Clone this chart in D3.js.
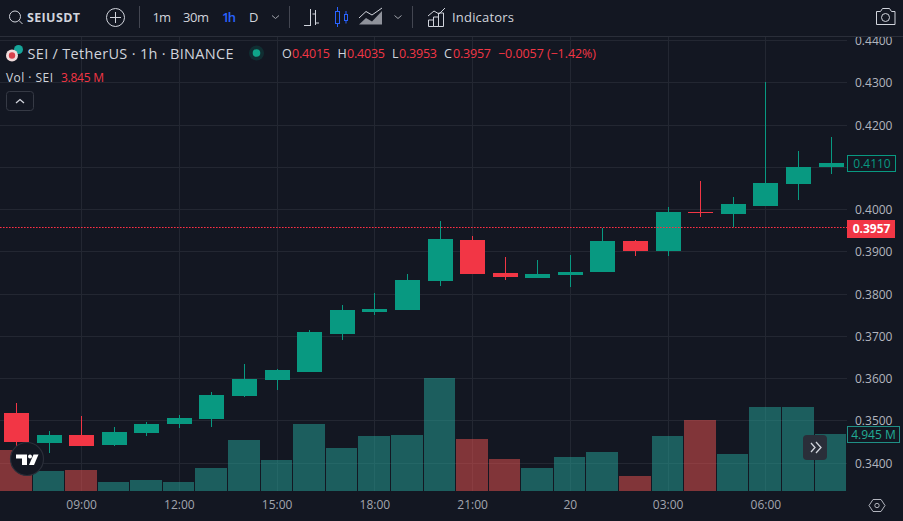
<!DOCTYPE html>
<html>
<head>
<meta charset="utf-8">
<style>
html,body{margin:0;padding:0;background:#131722;overflow:hidden}
svg{display:block}
text{font-family:"Open Sans","Liberation Sans",sans-serif}
</style>
<script src="https://cdn.jsdelivr.net/npm/d3@7/dist/d3.min.js"></script>
</head>
<body>
<svg id="chart" width="903" height="521"></svg>
<script>
// Hourly SEI/USDT session, 07:00 through 08:00 the next day
const opens  = [0.3519,0.3448,0.3467,0.3443,0.3472,0.3493,0.3505,0.3559,0.3597,0.3616,0.3706,0.3758,0.3762,0.3831,0.3928,0.3850,0.3838,0.3845,0.3852,0.3926,0.3902,0.3994,0.3989,0.4008,0.4060,0.4100];
const highs  = [0.3543,0.3476,0.3512,0.3486,0.3498,0.3514,0.3569,0.3635,0.3623,0.3715,0.3774,0.3803,0.3848,0.3973,0.3937,0.3888,0.3881,0.3892,0.3956,0.3928,0.4006,0.4067,0.4030,0.4301,0.4138,0.4171];
const lows   = [0.3441,0.3423,0.3441,0.3441,0.3465,0.3483,0.3486,0.3557,0.3573,0.3616,0.3691,0.3751,0.3762,0.3819,0.3848,0.3833,0.3838,0.3817,0.3852,0.3890,0.3890,0.3982,0.3959,0.4008,0.4022,0.4084];
const closes = [0.3450,0.3467,0.3441,0.3474,0.3493,0.3507,0.3561,0.3599,0.3621,0.3710,0.3762,0.3765,0.3833,0.3930,0.3848,0.3840,0.3848,0.3852,0.3926,0.3902,0.3994,0.3992,0.4013,0.4063,0.4100,0.4110];
const volumes = [3.556,1.735,1.821,0.781,0.954,0.781,1.995,4.423,2.689,5.811,3.729,4.770,4.857,9.800,4.510,2.775,1.995,2.949,3.382,1.301,4.770,6.158,3.209,7.285,7.285,4.945];

const gridPrices = [0.34,0.35,0.36,0.37,0.38,0.39,0.40,0.41,0.42,0.43,0.44];
// 0.4100 sits under the close tag, so it gets a grid line but no label
const priceLabels = [0.34,0.35,0.36,0.37,0.38,0.39,0.40,0.42,0.43,0.44];
const timeTickIndex = [2,5,8,11,14,17,20,23];
const timeTickLabels = ["09:00","12:00","15:00","18:00","21:00","20","03:00","06:00"];
const lastPrice = 0.3957;
const seriesClose = 0.4110;
const seriesVolume = 4.945;
const intervals = ["1m","30m","1h","D"];
const intervalWidths = [18.5,26,14,8];

const UP = "#089981", DOWN = "#F23645";
const UP_VOL = "rgba(38,166,154,.5)", DOWN_VOL = "rgba(239,83,80,.5)";
const GRID = "#232732", AXIS_TEXT = "#b2b5be", TEXT = "#d1d4dc";
const plotRight = 847, plotTop = 37, plotBottom = 491;

const svg = d3.select("#chart");
const snap = v => Math.floor(v) + 0.5;

const x = d3.scaleLinear().domain([0, opens.length - 1]).range([16.5, 831]);
const y = d3.scaleLinear().domain([0.34, 0.44]).range([463, 40.5]);
const yVol = d3.scaleLinear().domain([0, seriesVolume]).range([plotBottom, 434]);
const candleW = 25;
const volLeft = i => Math.max(0, Math.round(x(i) - 16.5));
const volRight = i => i === opens.length - 1 ? plotRight - 1 : Math.round(x(i + 1) - 16.5) - 1;

// Grid
const grid = svg.append("g").attr("shape-rendering","crispEdges").attr("stroke",GRID).attr("stroke-width",1);
grid.selectAll("line.h").data(gridPrices).join("line").attr("class","h")
  .attr("x1",0).attr("x2",plotRight).attr("y1",d=>snap(y(d))).attr("y2",d=>snap(y(d)));
grid.selectAll("line.v").data(timeTickIndex).join("line").attr("class","v")
  .attr("y1",plotTop).attr("y2",plotBottom).attr("x1",d=>snap(x(d))).attr("x2",d=>snap(x(d)));

// Volume pane
svg.append("g").attr("shape-rendering","crispEdges").selectAll("rect").data(volumes).join("rect")
  .attr("x",(d,i)=>volLeft(i))
  .attr("width",(d,i)=>volRight(i)-volLeft(i))
  .attr("y",d=>Math.round(yVol(d)))
  .attr("height",d=>plotBottom-Math.round(yVol(d)))
  .attr("fill",(d,i)=>closes[i]>=opens[i]?UP_VOL:DOWN_VOL);

// Candles
const candle = svg.append("g").attr("shape-rendering","crispEdges").selectAll("g").data(opens).join("g")
  .attr("fill",(d,i)=>closes[i]>=opens[i]?UP:DOWN)
  .attr("stroke",(d,i)=>closes[i]>=opens[i]?UP:DOWN);
candle.append("line")
  .attr("x1",(d,i)=>snap(x(i))).attr("x2",(d,i)=>snap(x(i)))
  .attr("y1",(d,i)=>Math.round(y(highs[i]))).attr("y2",(d,i)=>Math.round(y(lows[i])));
candle.append("rect").attr("stroke","none")
  .attr("x",(d,i)=>Math.floor(x(i))-12)
  .attr("width",candleW)
  .attr("y",(d,i)=>Math.round(y(Math.max(opens[i],closes[i]))))
  .attr("height",(d,i)=>Math.max(1,Math.round(y(Math.min(opens[i],closes[i])))-Math.round(y(Math.max(opens[i],closes[i])))));

// Last price line
svg.append("line").attr("x1",0).attr("x2",plotRight)
  .attr("y1",snap(y(lastPrice))).attr("y2",snap(y(lastPrice)))
  .attr("stroke","#ff2f45").attr("stroke-width",1.2).attr("stroke-dasharray","1.6 1.4");

// Price axis
const yAxis = d3.axisRight(y).tickValues(priceLabels).tickFormat(d3.format(".4f")).tickSize(0).tickPadding(0);
const yG = svg.append("g").attr("transform",`translate(855,0)`).call(yAxis);
yG.select(".domain").remove();
yG.selectAll("text").attr("fill",AXIS_TEXT).style("font-size","12px").style("font-family",'"Open Sans",sans-serif').attr("dy",".35em");

// Time axis
const xAxis = d3.axisBottom(x).tickValues(timeTickIndex).tickFormat((d,i)=>timeTickLabels[i]).tickSize(0).tickPadding(0);
const xG = svg.append("g").attr("transform",`translate(-0.5,499)`).call(xAxis);
xG.select(".domain").remove();
xG.selectAll("text").attr("fill",AXIS_TEXT).attr("opacity",.9).style("font-size","12px").style("font-family",'"Open Sans",sans-serif').attr("y",0).attr("dy",".85em");

// Price and volume tags
const priceTag = svg.append("g");
priceTag.append("rect").attr("x",847).attr("y",Math.round(y(lastPrice))-8).attr("width",48).attr("height",18).attr("fill",DOWN);
priceTag.append("text").attr("x",871.5).attr("y",y(lastPrice)+1).attr("dy",".35em").attr("text-anchor","middle")
  .attr("fill","#fff").attr("font-weight",700).attr("font-size",12).text(d3.format(".4f")(lastPrice));

const closeTag = svg.append("g");
closeTag.append("rect").attr("x",847.5).attr("y",Math.round(y(seriesClose))-7.5).attr("width",48).attr("height",16)
  .attr("fill","#131722").attr("stroke",UP);
closeTag.append("text").attr("x",872).attr("y",y(seriesClose)+.5).attr("dy",".35em").attr("text-anchor","middle")
  .attr("fill",UP).attr("font-size",12).text(d3.format(".4f")(seriesClose));

const volTag = svg.append("g");
volTag.append("rect").attr("x",847.5).attr("y",426.5).attr("width",52).attr("height",16)
  .attr("fill","#131722").attr("stroke","#1f8f85");
volTag.append("text").attr("x",873.5).attr("y",435).attr("dy",".35em").attr("text-anchor","middle")
  .attr("fill","#22ab94").attr("font-size",12).text(seriesVolume.toFixed(3)+" M");

// Toolbar
const bar = svg.append("g");
bar.append("rect").attr("width",903).attr("height",36).attr("fill","#131722");
bar.append("line").attr("x1",0).attr("x2",903).attr("y1",36.5).attr("y2",36.5).attr("stroke","#2a2e39");
function path(d,color){return bar.append("path").attr("d",d).attr("fill","none").attr("stroke",color||"#d1d4dc").attr("stroke-width",1);}
bar.append("circle").attr("cx",15).attr("cy",16.5).attr("r",5.5).attr("fill","none").attr("stroke","#d1d4dc");
path("M19 20.5l3.5 3.5");
bar.append("text").attr("x",27).attr("y",22).attr("fill",TEXT).attr("font-weight",700).attr("font-size",12.5).attr("textLength",53).text("SEIUSDT");
bar.append("circle").attr("cx",115.5).attr("cy",17.5).attr("r",9).attr("fill","none").attr("stroke","#d1d4dc");
path("M110 17.5h11M115.5 12v11");
[139.5,289.5,412.5].forEach(s=>bar.append("line").attr("x1",s).attr("x2",s).attr("y1",6).attr("y2",28).attr("stroke","#434651"));
bar.selectAll("text.iv").data(intervals).join("text").attr("class","iv")
  .attr("x",(d,i)=>[152.5,183,222,249][i]).attr("y",22).attr("font-size",13)
  .attr("textLength",(d,i)=>intervalWidths[i])
  .attr("fill",d=>d==="1h"?"#2962ff":TEXT).attr("font-weight",d=>d==="1h"?600:400).text(d=>d);
path("M272 15.5l3.5 3 3.5-3","#a0a3ab");
path("M394.5 15.5l3.5 3 3.5-3","#a0a3ab");
// Chart style icons
path("M310.5 9v17M304 25.5h6.5M310.5 13h0M315.5 10v15M315.5 14h-3M315.5 23h3.5");
const blue="#2962ff";
bar.append("rect").attr("x",335.5).attr("y",11.5).attr("width",4).attr("height",12).attr("fill","none").attr("stroke",blue);
path("M337.5 7v4.5M337.5 23.5v3.5",blue);
bar.append("rect").attr("x",344.5).attr("y",14.5).attr("width",3).attr("height",6).attr("fill","none").attr("stroke",blue);
path("M346 11v3.5M346 20.5v3",blue);
bar.append("path").attr("d","M359 24.5l7-6.5 6 3.5 10-10.5v13.5z").attr("fill","#8f929b");
path("M359 18l7-6.5 6 3.5 10-7");
// Indicators icon
path("M428 16l6-5 5 3 6-6");
path("M428.5 20h5v6.5h-5zM433.5 17h5v9.5h-5zM438.5 13h5v13.5h-5z");
bar.append("text").attr("x",452).attr("y",22).attr("fill",TEXT).attr("font-size",13).attr("textLength",62).text("Indicators");
// Camera
path("M876.5 11.5h4l2-3h7l2 3h3.5v13h-18.5z");
bar.append("circle").attr("cx",885.5).attr("cy",17.5).attr("r",4).attr("fill","none").attr("stroke","#d1d4dc");

// Legend
const leg = svg.append("g");
leg.append("circle").attr("cx",18.5).attr("cy",49.5).attr("r",4.5).attr("fill","#16a59a");
leg.append("circle").attr("cx",12).attr("cy",55.5).attr("r",6).attr("fill","#f0dcdc");
leg.append("circle").attr("cx",12).attr("cy",55.5).attr("r",3.2).attr("fill","#d8434c");
leg.append("text").attr("x",27.5).attr("y",59).attr("fill",TEXT).attr("font-size",14.5).attr("textLength",206).text("SEI / TetherUS · 1h · BINANCE");
leg.append("circle").attr("cx",256.5).attr("cy",53).attr("r",7.5).attr("fill","#089981").attr("opacity",.18);
leg.append("circle").attr("cx",256.5).attr("cy",53).attr("r",3.8).attr("fill","#0fa68a");
const ohlc = [["O","0.4015",282,292],["H","0.4035",337.5,347],["L","0.3953",392,399],["C","0.3957",444,453]];
ohlc.forEach(([k,v,a,b])=>{
  leg.append("text").attr("x",a).attr("y",58).attr("fill",TEXT).attr("font-size",12.5).text(k);
  leg.append("text").attr("x",b).attr("y",58).attr("fill",DOWN).attr("font-size",12.5).attr("textLength",38).text(v);
});
leg.append("text").attr("x",498).attr("y",58).attr("fill",DOWN).attr("font-size",12.5).attr("textLength",98).text("−0.0057 (−1.42%)");
leg.append("text").attr("x",6).attr("y",82).attr("fill",TEXT).attr("font-size",12).attr("textLength",47).text("Vol · SEI");
leg.append("text").attr("x",61).attr("y",82).attr("fill",DOWN).attr("font-size",12).attr("textLength",43).text("3.845 M");
leg.append("rect").attr("x",6.5).attr("y",91.5).attr("width",27).attr("height",19).attr("rx",3).attr("fill","#131722").attr("stroke","#363a45");
leg.append("path").attr("d","M16 103l4-3.5 4 3.5").attr("fill","none").attr("stroke",TEXT).attr("stroke-width",1.3);

// Logo badge
const logo = svg.append("g");
logo.append("circle").attr("cx",27).attr("cy",459).attr("r",16.5).attr("fill","#131722").attr("stroke","#2a2e39").attr("stroke-width",1.2);
logo.append("path").attr("fill","#fff").attr("d","M16 454.5h11v10.5h-5v-6.5h-6z");
logo.append("circle").attr("cx",30).attr("cy",456.5).attr("r",2).attr("fill","#fff");
logo.append("path").attr("fill","#fff").attr("d","M33.5 454.5h5l-4.5 10.5h-5z");

// Scroll-right button
const scroll = svg.append("g");
scroll.append("rect").attr("x",803).attr("y",435).attr("width",24).attr("height",25).attr("rx",4).attr("fill","#2a2e39");
scroll.append("path").attr("d","M811 443l4 4.5-4 4.5M816 442l5 5.5-5 5.5").attr("fill","none").attr("stroke","#d1d4dc").attr("stroke-width",1.3);

// Settings hexagon
const gear = svg.append("g");
gear.append("path").attr("d","M873 499.5h8l4 6-4 6h-8l-4-6z").attr("fill","none").attr("stroke","#b2b5be");
gear.append("circle").attr("cx",877).attr("cy",505.5).attr("r",2.2).attr("fill","none").attr("stroke","#b2b5be");
</script>
</body>
</html>
